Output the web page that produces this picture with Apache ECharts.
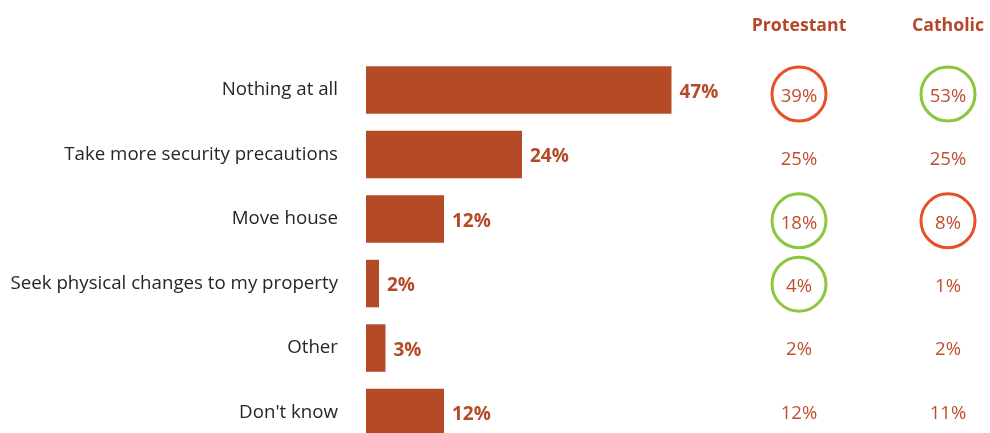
<!DOCTYPE html>
<html><head><meta charset="utf-8">
<script src="https://cdn.jsdelivr.net/npm/echarts@6/dist/echarts.min.js"></script>
<style>html,body{margin:0;padding:0;background:#fff}#c{width:990px;height:433px}</style>
</head><body><div id="c"></div>
<script>
var categories = ["Nothing at all", "Take more security precautions", "Move house", "Seek physical changes to my property", "Other", "Don't know"];
var overallValues = [47, 24, 12, 2, 3, 12];
var groupNames = ["Protestant", "Catholic"];
var protestantValues = [39, 25, 18, 4, 2, 12];
var catholicValues = [53, 25, 8, 1, 2, 11];
// highlight: "low" = red circle, "high" = green circle, "" = none
var protestantMarks = ["low", "", "high", "high", "", ""];
var catholicMarks = ["high", "", "low", "", "", ""];

var FONT = "Open Sans";
var BAR = "#B54A26";
var TXT = "#BE4E2E";
var ringColor = {low: "#E8502A", high: "#8CC63F"};

function pointData(colIdx, vals, marks) {
  return vals.map(function (v, i) {
    var m = marks[i];
    return {
      value: [colIdx, i, v],
      itemStyle: {
        color: "rgba(0,0,0,0)",
        borderColor: m ? ringColor[m] : "rgba(0,0,0,0)",
        borderWidth: m ? 3 : 0,
        opacity: 1
      }
    };
  });
}

var colLabel = {show: true, position: "inside", offset: [0, 2.5],
  formatter: function (p) { return p.value[2] + "%"; },
  color: TXT, fontSize: 18.5, fontFamily: FONT};

var chart = echarts.init(document.getElementById("c"), null, {renderer: "canvas"});
chart.setOption({
  animation: false,
  textStyle: {fontFamily: FONT},
  grid: [
    {left: 366, top: 57.8, height: 387, width: 390, outerBoundsMode: "none", containLabel: false},
    {left: 724.5, top: 62.3, height: 380.4, width: 298, outerBoundsMode: "none", containLabel: false}
  ],
  xAxis: [
    {type: "value", gridIndex: 0, min: 0, max: 60, show: false},
    {type: "category", gridIndex: 1, data: groupNames, position: "top",
     axisLine: {show: false}, axisTick: {show: false},
     axisLabel: {margin: 27.5, color: "#B5472A", fontWeight: "bold", fontSize: 17.7, fontFamily: FONT}}
  ],
  yAxis: [
    {type: "category", gridIndex: 0, data: categories, inverse: true,
     axisLine: {show: false}, axisTick: {show: false},
     axisLabel: {margin: 28, color: "#262626", fontSize: 18.7, fontFamily: FONT, padding: [4, 0, 0, 0]}},
    {type: "category", gridIndex: 1, data: categories, inverse: true, show: false}
  ],
  series: [
    {type: "bar", xAxisIndex: 0, yAxisIndex: 0, data: overallValues, barWidth: 47.5,
     itemStyle: {color: BAR},
     label: {show: true, position: "right", distance: 8, offset: [0, 2.5], formatter: "{c}%",
             color: BAR, fontWeight: "bold", fontSize: 19, fontFamily: FONT}},
    {type: "scatter", xAxisIndex: 1, yAxisIndex: 1, symbol: "circle", symbolSize: 54, clip: false,
     data: pointData(0, protestantValues, protestantMarks), label: colLabel},
    {type: "scatter", xAxisIndex: 1, yAxisIndex: 1, symbol: "circle", symbolSize: 54, clip: false,
     data: pointData(1, catholicValues, catholicMarks), label: colLabel}
  ]
});
</script></body></html>
